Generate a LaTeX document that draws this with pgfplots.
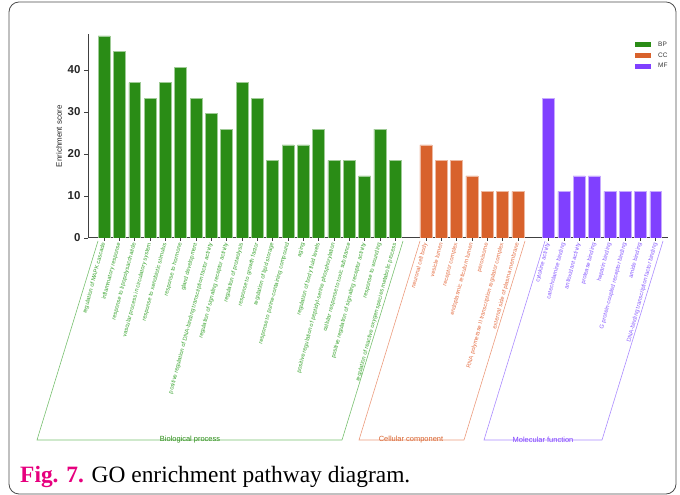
\documentclass[border=0pt]{standalone}
\usepackage{pgfplots}
\pgfplotsset{compat=1.18}
\usepackage{fontspec}
\setmainfont{Liberation Sans}
\newfontfamily\serif{Liberation Serif}
\definecolor{bpc}{RGB}{42,140,22}
\definecolor{ccc}{RGB}{216,98,44}
\definecolor{mfc}{RGB}{128,64,255}
\definecolor{bpl}{RGB}{60,165,50}
\definecolor{ccl}{RGB}{228,112,70}
\definecolor{mfl}{RGB}{135,90,255}
\definecolor{figm}{RGB}{230,0,126}
\newcommand\lb[1]{\textcolor{bpl}{#1}}
\newcommand\lc[1]{\textcolor{ccl}{#1}}
\newcommand\lm[1]{\textcolor{mfl}{#1}}
\begin{document}
\begin{tikzpicture}[x=1bp,y=1bp]
\useasboundingbox (0,0) rectangle (680,495);
\draw[black!70, line width=0.8bp, rounded corners=10bp] (9,1) rectangle (676,493);
\begin{axis}[
  at={(88bp,257bp)}, anchor=south west,
  scale only axis, width=580bp, height=203.7bp,
  xmin=-1.05, xmax=36.8, ymin=0, ymax=48.5,
  axis x line=bottom, axis y line=left,
  axis line style={-, line width=1bp, black!75},
  tick align=outside,
  major tick length=4bp,
  tick style={black!75, line width=0.8bp},
  ytick={0,10,20,30,40},
  yticklabel style={font=\bfseries\fontsize{11.5}{12}\selectfont, text=black!85},
  /pgf/number format/assume math mode=true,
  ylabel={Enrichment score},
  ylabel style={at={(axis description cs:-0.05,0.5)}, anchor=center, font=\fontsize{8}{9}\selectfont, text=black!85},
  xtick={0,1,2,3,4,5,6,7,8,9,10,11,12,13,14,15,16,17,18,19,21,22,23,24,25,26,27,29,30,31,32,33,34,35,36},
  xticklabels={
    \lb{regulation of MAPK cascade},
    \lb{inflammatory response},
    \lb{response to lipopolysaccharide},
    \lb{vascular process in circulatory system},
    \lb{response to xenobiotic stimulus},
    \lb{response to hormone},
    \lb{gland development},
    \lb{positive regulation of DNA-binding transcription factor activity},
    \lb{regulation of signaling receptor activity},
    \lb{regulation of proteolysis},
    \lb{response to growth factor},
    \lb{regulation of lipid storage},
    \lb{response to purine-containing compound},
    \lb{aging},
    \lb{regulation of body fluid levels},
    \lb{positive regulation of peptidyl-serine phosphorylation},
    \lb{cellular response to toxic substance},
    \lb{positive regulation of signaling receptor activity},
    \lb{response to wounding},
    \lb{regulation of reactive oxygen species metabolic process},
    \lc{neuronal cell body},
    \lc{vesicle lumen},
    \lc{receptor complex},
    \lc{endoplasmic reticulum lumen},
    \lc{peroxisome},
    \lc{RNA polymerase II transcription regulator complex},
    \lc{external side of plasma membrane},
    \lm{cytokine activity},
    \lm{catecholamine binding},
    \lm{antioxidant activity},
    \lm{protease binding},
    \lm{heparin binding},
    \lm{G protein-coupled receptor binding},
    \lm{amide binding},
    \lm{DNA-binding transcription factor binding}},
  xticklabel style={rotate=75, anchor=east, font=\fontsize{5.8}{7}\selectfont, inner sep=1bp},
  x tick style={black!75, line width=0.6bp},
  xtick style={/pgfplots/major tick length=3bp},
  ybar, bar width=0.78,
  legend style={at={(1.003,0.975)}, anchor=north east, draw=none, fill=none,
    font=\fontsize{6.5}{7.5}\selectfont, text=black!80, inner sep=0pt, row sep=1bp,
    legend cell align=left},
  legend image code/.code={\fill[#1, draw=none] (0bp,-2.5bp) rectangle (16bp,2.5bp); \path[draw=none, fill=none] (0bp,0bp) -- (21bp,0bp);},
]
\addplot[bar shift=0pt, fill=bpc, draw=bpc!45!white, line width=0.5bp] coordinates {
 (0,48.1) (1,44.4) (2,37.0) (3,33.3) (4,37.0) (5,40.7) (6,33.3) (7,29.6) (8,25.9) (9,37.0)
 (10,33.3) (11,18.5) (12,22.2) (13,22.2) (14,25.9) (15,18.5) (16,18.5) (17,14.8) (18,25.9) (19,18.5)};
\addlegendentry{BP}
\addplot[bar shift=0pt, fill=ccc, draw=ccc!45!white, line width=0.5bp] coordinates {
 (21,22.2) (22,18.5) (23,18.5) (24,14.8) (25,11.1) (26,11.1) (27,11.1)};
\addlegendentry{CC}
\addplot[bar shift=0pt, fill=mfc, draw=mfc!45!white, line width=0.5bp] coordinates {
 (29,33.3) (30,11.1) (31,14.8) (32,14.8) (33,11.1) (34,11.1) (35,11.1) (36,11.1)};
\addlegendentry{MF}
\end{axis}
\draw[bpl!70!white, line width=0.6bp] (98,254) -- (37,55) -- (342,55) -- (403,254);
\draw[ccl!70!white, line width=0.6bp] (420,254) -- (359,55) -- (464,55) -- (525,254);
\draw[mfl!70!white, line width=0.6bp] (545,254) -- (484,55) -- (602,55) -- (663,254);
\node[text=bpc, font=\fontsize{7.5}{8}\selectfont, inner sep=0pt] at (190,55) {Biological process};
\node[text=ccc, font=\fontsize{7.5}{8}\selectfont, inner sep=0pt] at (411,55) {Cellular component};
\node[text=mfc, font=\fontsize{7.5}{8}\selectfont, inner sep=0pt] at (543,55) {Molecular function};
\node[anchor=base west, inner sep=0pt, font=\serif\fontsize{23.5}{26}\selectfont] at (20,12)
  {\textcolor{figm}{\bfseries Fig. 7.} GO enrichment pathway diagram.};
\end{tikzpicture}
\end{document}
